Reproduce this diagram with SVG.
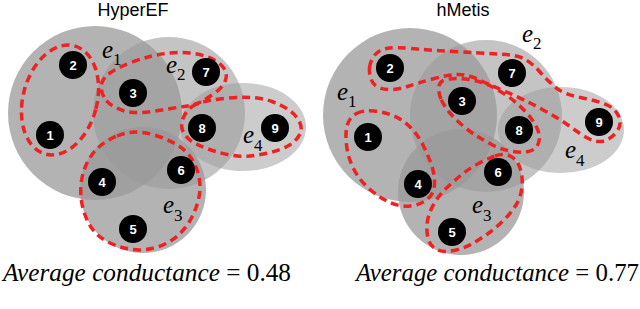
<svg xmlns="http://www.w3.org/2000/svg" width="640" height="309" viewBox="0 0 640 309">
<style>
.he{fill:#999;}
.a{opacity:.75}
.b{opacity:.58}
.c{opacity:.5}
.cl{fill:none;stroke:#ee2222;stroke-width:3.5;stroke-dasharray:8 5;}
.nd circle{fill:#000;}
.nd text{fill:#fff;font-family:"Liberation Sans",Arial,sans-serif;font-weight:bold;font-size:13px;text-anchor:middle;}
.lb{font-family:"Liberation Serif","Times New Roman",serif;font-size:25px;fill:#000;}
.lb .e{font-style:italic;}
.lb .s{font-size:17px;}
.ttl{font-family:"Liberation Sans",Arial,sans-serif;font-size:18px;text-anchor:middle;fill:#000;}
.cap{font-family:"Liberation Serif","Times New Roman",serif;font-size:25px;fill:#000;}
</style>

<!-- LEFT PANEL: HyperEF -->
<g id="left-hyperedges">
<circle id="L-e1" class="he a" cx="95" cy="113" r="87"/>
<circle id="L-e2" class="he b" cx="169" cy="113" r="76"/>
<ellipse id="L-e4" class="he c" cx="243" cy="127" rx="63" ry="44"/>
<circle id="L-e3" class="he a" cx="143" cy="190" r="63"/>
</g>
<text class="ttl" x="133" y="16">HyperEF</text>

<g id="left-clusters">
<ellipse class="cl" cx="60" cy="100" rx="37" ry="56" transform="rotate(15 60 100)"/>
<path class="cl" d="M104,97 Q100,90 101.5,84 Q103,78 110,73 Q117,68 128.5,63.5 Q140,59 150,56.5 Q160,54 170,53 Q180,52 190,53 Q200,54 209,57.5 Q218,61 223,67 Q228,73 225.5,80 Q223,87 215.5,92.5 Q208,98 201.5,101.5 Q195,105 187.5,106 Q180,107 171,108.5 Q162,110 152.5,111.5 Q143,113 134,112.5 Q125,112 116.5,108 Q108,104 104,97 Z"/>
<path class="cl" d="M191.5,107 Q197,103 207,101 Q217,99 228.5,98 Q240,97 251,97.5 Q262,98 272,101.5 Q282,105 289.5,110.5 Q297,116 300,123 Q303,130 298.5,136.5 Q294,143 287,146.5 Q280,150 270,152.5 Q260,155 250,156 Q240,157 230,155 Q220,153 211,150 Q202,147 194.5,143 Q187,139 183.5,132.5 Q180,126 183,118.5 Q186,111 191.5,107 Z"/>
<path class="cl" d="M117,136 Q127,132 136,132 Q145,132 156,135.5 Q167,139 176.5,144.5 Q186,150 191.5,158.5 Q197,167 199,177 Q201,187 199,197 Q197,207 192,217 Q187,227 178.5,235 Q170,243 157.5,247 Q145,251 132.5,249.5 Q120,248 109,242.5 Q98,237 92,228.5 Q86,220 83,208.5 Q80,197 81,185 Q82,173 87,163 Q92,153 99.5,146.5 Q107,140 117,136 Z"/>
</g>

<g id="L-n1" class="nd"><circle cx="50" cy="135" r="14"/><text x="50" y="140">1</text></g>
<g id="L-n2" class="nd"><circle cx="73" cy="65" r="14"/><text x="73" y="70">2</text></g>
<g id="L-n3" class="nd"><circle cx="133" cy="93" r="14"/><text x="133" y="98">3</text></g>
<g id="L-n4" class="nd"><circle cx="102" cy="182" r="14"/><text x="102" y="187">4</text></g>
<g id="L-n5" class="nd"><circle cx="133" cy="229" r="14"/><text x="133" y="234">5</text></g>
<g id="L-n6" class="nd"><circle cx="181" cy="170" r="14"/><text x="181" y="175">6</text></g>
<g id="L-n7" class="nd"><circle cx="206" cy="72" r="14"/><text x="206" y="77">7</text></g>
<g id="L-n8" class="nd"><circle cx="202" cy="128" r="14"/><text x="202" y="133">8</text></g>
<g id="L-n9" class="nd"><circle cx="275" cy="128" r="14"/><text x="275" y="133">9</text></g>

<text class="lb" x="102" y="58"><tspan class="e">e</tspan><tspan class="s" dy="7">1</tspan></text>
<text class="lb" x="166" y="73"><tspan class="e">e</tspan><tspan class="s" dy="7">2</tspan></text>
<text class="lb" x="243" y="143"><tspan class="e">e</tspan><tspan class="s" dy="8">4</tspan></text>
<text class="lb" x="163" y="213"><tspan class="e">e</tspan><tspan class="s" dy="8">3</tspan></text>

<!-- RIGHT PANEL: hMetis -->
<g id="right-hyperedges">
<circle id="R-e1" class="he a" cx="410" cy="115" r="87"/>
<circle id="R-e2" class="he b" cx="486" cy="116" r="76"/>
<ellipse id="R-e4" class="he c" cx="561" cy="130" rx="63" ry="43"/>
<circle id="R-e3" class="he a" cx="461" cy="192" r="63"/>
</g>
<text class="ttl" x="463" y="16">hMetis</text>

<g id="right-clusters">
<path class="cl" d="M369.5,67.5 Q370,62 374,56 Q378,50 386.5,48.5 Q395,47 411,48.5 Q427,50 453.5,51.5 Q480,53 499,54 Q518,55 525.5,59.5 Q533,64 540,72 Q547,80 555,87 Q563,94 580.5,97.5 Q598,101 607,105 Q616,109 619,117 Q622,125 616.5,132 Q611,139 604,141 Q597,143 588.5,138.5 Q580,134 570,126.5 Q560,119 541.5,109 Q523,99 506.5,92 Q490,85 478.5,79.5 Q467,74 457,74.5 Q447,75 432.5,79 Q418,83 409,86 Q400,89 392.5,89.5 Q385,90 379,87.5 Q373,85 371,79 Q369,73 369.5,67.5 Z"/>
<path class="cl" d="M441,99 Q438,92 439,86 Q440,80 449,79 Q458,78 469,79.5 Q480,81 488.5,85 Q497,89 506,95 Q515,101 523.5,109.5 Q532,118 536.5,127 Q541,136 538.5,143 Q536,150 528,151.5 Q520,153 510,151 Q500,149 491.5,144.5 Q483,140 476,135.5 Q469,131 462,125 Q455,119 449.5,112.5 Q444,106 441,99 Z"/>
<path class="cl" d="M356.5,113.5 Q363,110 374,111 Q385,112 394,116 Q403,120 410.5,127.5 Q418,135 423,145 Q428,155 431.5,165 Q435,175 434.5,184.5 Q434,194 427,199.5 Q420,205 410,206 Q400,207 390,202.5 Q380,198 370,189.5 Q360,181 354,169.5 Q348,158 346.5,145 Q345,132 347.5,124.5 Q350,117 356.5,113.5 Z"/>
<path class="cl" d="M495,156 Q503,153 510,156 Q517,159 520,168 Q523,177 522,187 Q521,197 516,205 Q511,213 504,220 Q497,227 489.5,232.5 Q482,238 473.5,243 Q465,248 454,250.5 Q443,253 436.5,249.5 Q430,246 428,238 Q426,230 427.5,221 Q429,212 434.5,203 Q440,194 447.5,187 Q455,180 462.5,174 Q470,168 478.5,163.5 Q487,159 495,156 Z"/>
</g>

<g id="R-n1" class="nd"><circle cx="368" cy="137" r="14"/><text x="368" y="142">1</text></g>
<g id="R-n2" class="nd"><circle cx="390" cy="68" r="14"/><text x="390" y="73">2</text></g>
<g id="R-n3" class="nd"><circle cx="462" cy="101" r="14"/><text x="462" y="106">3</text></g>
<g id="R-n4" class="nd"><circle cx="418" cy="184" r="14"/><text x="418" y="189">4</text></g>
<g id="R-n5" class="nd"><circle cx="452" cy="232" r="14"/><text x="452" y="237">5</text></g>
<g id="R-n6" class="nd"><circle cx="498" cy="172" r="14"/><text x="498" y="177">6</text></g>
<g id="R-n7" class="nd"><circle cx="512" cy="73" r="14"/><text x="512" y="78">7</text></g>
<g id="R-n8" class="nd"><circle cx="519" cy="130" r="14"/><text x="519" y="135">8</text></g>
<g id="R-n9" class="nd"><circle cx="599" cy="122" r="14"/><text x="599" y="127">9</text></g>

<text class="lb" x="522" y="42"><tspan class="e">e</tspan><tspan class="s" dy="7">2</tspan></text>
<text class="lb" x="337" y="100"><tspan class="e">e</tspan><tspan class="s" dy="7">1</tspan></text>
<text class="lb" x="565" y="158"><tspan class="e">e</tspan><tspan class="s" dy="8">4</tspan></text>
<text class="lb" x="472" y="213"><tspan class="e">e</tspan><tspan class="s" dy="8">3</tspan></text>

<text class="cap" x="3" y="281" textLength="288" lengthAdjust="spacingAndGlyphs"><tspan font-style="italic">Average conductance</tspan> = 0.48</text>
<text class="cap" x="356" y="281" textLength="283" lengthAdjust="spacingAndGlyphs"><tspan font-style="italic">Average conductance</tspan> = 0.77</text>
</svg>
